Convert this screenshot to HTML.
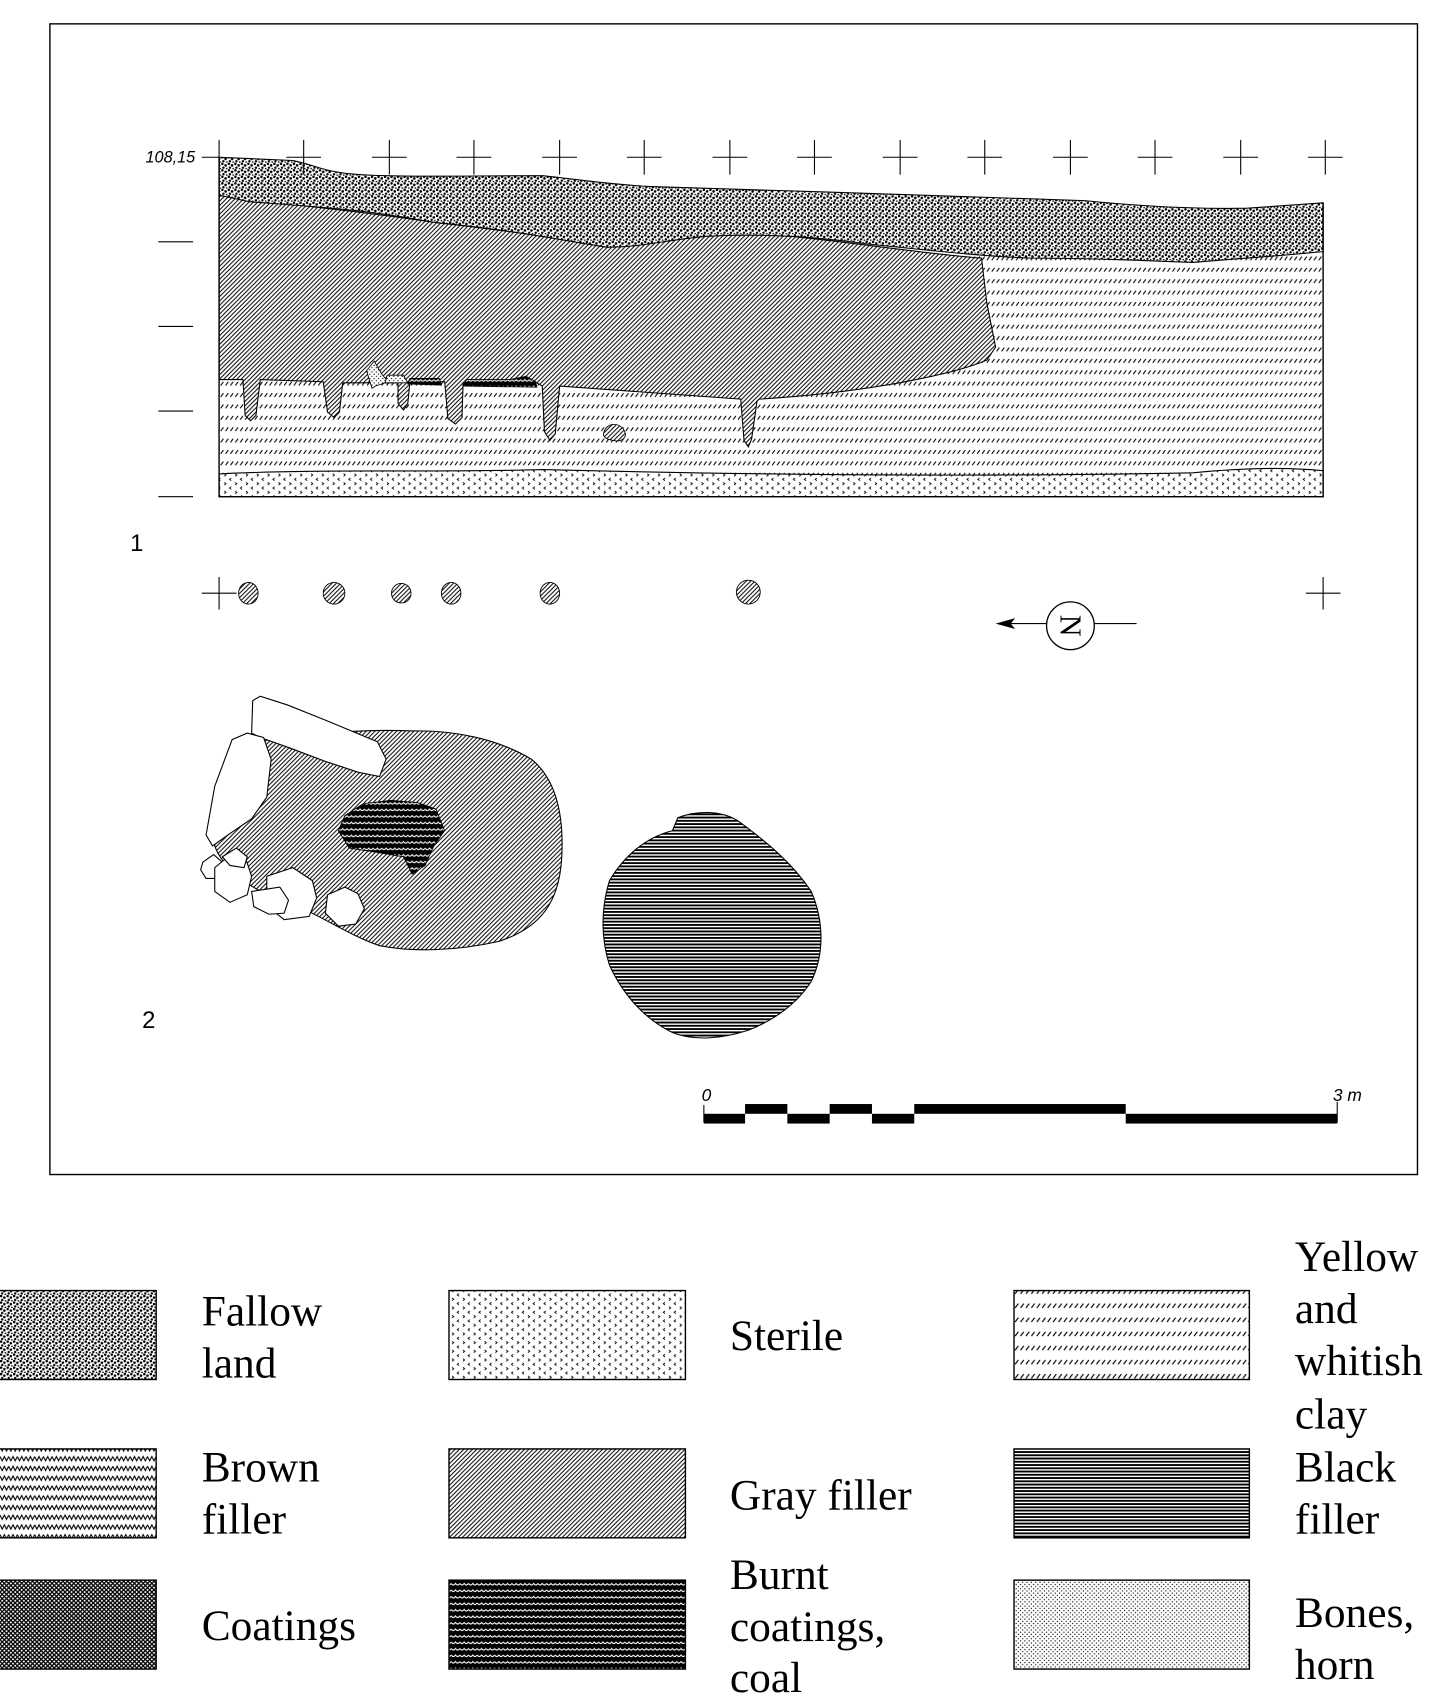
<!DOCTYPE html>
<html><head><meta charset="utf-8"><style>
html,body{margin:0;padding:0;background:#fff}
svg{display:block}
.lt{font-family:"Liberation Serif",serif;font-size:40px}
</style></head><body>
<svg width="1446" height="1699" viewBox="0 0 1333.3 1566.6" xmlns="http://www.w3.org/2000/svg">
<defs>
<pattern id="fal" width="6" height="6" patternUnits="userSpaceOnUse">
<rect width="6" height="6" fill="#fff"/>
<circle cx="1" cy="1" r="1.2" fill="#000"/><circle cx="4" cy="2.5" r="1.2" fill="#000"/><circle cx="2" cy="4.6" r="1.1" fill="#000"/><circle cx="5" cy="5.5" r="0.8" fill="#000"/>
</pattern>
<pattern id="gray" width="4" height="4" patternUnits="userSpaceOnUse">
<rect width="4" height="4" fill="#fff"/>
<path d="M-1,5 L5,-1 M-1,1 L1,-1 M3,5 L5,3" stroke="#000" stroke-width="0.9"/>
</pattern>
<pattern id="clay" width="4.5" height="10.5" patternUnits="userSpaceOnUse">
<rect width="4.5" height="10.5" fill="#fff"/>
<path d="M1,9 L3.5,5.5" stroke="#000" stroke-width="1"/>
</pattern>
<pattern id="clayL" width="5" height="13" patternUnits="userSpaceOnUse">
<rect width="5" height="13" fill="#fff"/>
<path d="M1,10 L4,6" stroke="#000" stroke-width="1.1"/>
</pattern>
<pattern id="ster" width="10" height="8" patternUnits="userSpaceOnUse">
<rect width="10" height="8" fill="#fff"/>
<path d="M3.2,0.8 L1.6,2 L3.2,3.2 M6.8,4.8 L8.4,6 L6.8,7.2" stroke="#000" stroke-width="0.8" fill="none"/>
</pattern>
<pattern id="blk" width="4" height="3" patternUnits="userSpaceOnUse">
<rect width="4" height="3" fill="#fff"/>
<rect y="0" width="4" height="1.7" fill="#000"/>
</pattern>
<pattern id="brown" width="8" height="9" patternUnits="userSpaceOnUse">
<rect width="8" height="9" fill="#fff"/>
<path d="M0,2 L2,6 L4,2 L6,6 L8,2" stroke="#000" stroke-width="1" fill="none"/>
</pattern>
<pattern id="coat" width="4" height="4" patternUnits="userSpaceOnUse">
<rect width="4" height="4" fill="#fff"/>
<path d="M0,0 L4,4 M4,0 L0,4" stroke="#000" stroke-width="1.2"/>
</pattern>
<pattern id="burnt" width="8" height="6" patternUnits="userSpaceOnUse">
<rect width="8" height="6" fill="#000"/>
<path d="M0,2 Q2,5 4,2 Q6,5 8,2" stroke="#fff" stroke-width="0.9" fill="none"/>
</pattern>
<pattern id="bone" width="4" height="4" patternUnits="userSpaceOnUse">
<rect width="4" height="4" fill="#fff"/>
<circle cx="1" cy="1" r="0.6" fill="#000"/><circle cx="3" cy="3" r="0.6" fill="#000"/>
</pattern>
</defs>

<rect x="46" y="22" width="1261" height="1061" fill="none" stroke="#000" stroke-width="1.3"/>

<!-- section -->
<rect x="202" y="230" width="1018" height="228" fill="url(#clay)"/>
<path d="M202,458 L202,437 C300,432 400,436 500,433 C700,438 900,440 1100,436 C1160,430 1200,432 1220,434 L1220,458 Z" fill="url(#ster)" stroke="#000" stroke-width="1"/>
<path d="M202,180 C230,186 300,190 400,205 C480,214 530,222 560,228 C600,224 650,215 700,215 C780,222 850,234 905,238 L910,280 L918,320 L910,332 C880,345 800,362 700,368 L698,370 L693,405 L690,412 L686,406 L683,368 L516,356 L512,400 L507,406 L502,398 L500,356 L495,353 L427,353 L426,385 L420,391 L413,386 L410,352 L378,352 L376,372 L372,378 L367,372 L367,353 L316,353 L313,380 L308,385 L302,380 L298,352 L240,350 L236,383 L231,388 L226,383 L224,350 L202,350 Z" fill="url(#gray)" stroke="#000" stroke-width="1"/>
<path d="M202,145 L270,148 C290,152 295,157 320,160 C360,164 420,162 500,162 C530,165 560,170 600,172 C650,174 700,175 760,177 C850,180 950,183 1000,185 C1050,190 1100,193 1150,192 L1220,187 L1220,232 C1180,236 1160,237 1100,242 C1050,240 1000,238 950,238 C900,236 850,230 800,225 C750,218 700,215 650,218 C610,222 590,228 560,228 C520,222 480,213 400,205 C330,192 280,190 230,186 L202,180 Z" fill="url(#fal)" stroke="#000" stroke-width="1"/>
<path d="M202,145 V458 H1220 V187" fill="none" stroke="#000" stroke-width="1.3"/>
<path d="M343,358 L338,342 L345,333 L352,345 L358,352 L346,356 Z" fill="url(#bone)" stroke="#000" stroke-width="0.8"/>
<path d="M355,353 L357,346 L372,346 L376,353 Z" fill="url(#bone)" stroke="#000" stroke-width="0.8"/>
<path d="M376,354 L378,349 L405,349 L407,355 Z" fill="url(#burnt)" stroke="#000" stroke-width="0.8"/>
<path d="M427,356 L430,350 L470,350 L485,347 L494,352 L495,357 Z" fill="url(#burnt)" stroke="#000" stroke-width="0.8"/>
<path d="M557,398 C560,390 570,389 575,396 C580,404 572,408 565,406 C558,405 555,402 557,398 Z" fill="url(#gray)" stroke="#000" stroke-width="0.8"/>

<!-- crosses -->
<g stroke="#000" stroke-width="1">
<path d="M186,145 H202 M202,129 V145 M264,145 H296 M280,129 V161 M343,145 H375 M359,129 V161 M421,145 H453 M437,129 V161 M500,145 H532 M516,129 V161 M578,145 H610 M594,129 V161 M657,145 H689 M673,129 V161 M735,145 H767 M751,129 V161 M814,145 H846 M830,129 V161 M892,145 H924 M908,129 V161 M971,145 H1003 M987,129 V161 M1049,145 H1081 M1065,129 V161 M1128,145 H1160 M1144,129 V161 M1206,145 H1238 M1222,129 V161"/>
<path d="M146,223 H178 M146,301 H178 M146,379 H178 M146,458 H178"/>
<path d="M186,547 H218 M202,532 V562 M1204,547 H1236 M1220,532 V562"/>
</g>
<text x="180" y="150" text-anchor="end" font-family="Liberation Sans,sans-serif" font-style="italic" font-size="15">108,15</text>
<text x="120" y="508" font-family="Liberation Sans,sans-serif" font-size="22">1</text>
<text x="131" y="948" font-family="Liberation Sans,sans-serif" font-size="22">2</text>

<!-- posts -->
<g fill="url(#gray)" stroke="#000" stroke-width="0.8">
<ellipse cx="229" cy="547" rx="9" ry="10"/><ellipse cx="308" cy="547" rx="10" ry="10"/>
<ellipse cx="370" cy="547" rx="9" ry="9"/><ellipse cx="416" cy="547" rx="9" ry="10"/>
<ellipse cx="507" cy="547" rx="9" ry="10"/><ellipse cx="690" cy="546" rx="11" ry="11"/>
</g>

<!-- north arrow -->
<path d="M930,575 H966 M1009,575 H1048" stroke="#000" stroke-width="1"/>
<path d="M918,575 L936,570 L932,575 L936,580 Z" fill="#000"/>
<circle cx="987" cy="577" r="22" fill="#fff" stroke="#000" stroke-width="1.2"/>
<text x="987" y="577" transform="rotate(90 987 577)" text-anchor="middle" dominant-baseline="central" font-family="Liberation Serif,serif" font-size="28">N</text>

<!-- pit 1 -->
<path d="M250,680 C300,676 340,672 380,674 C420,673 460,682 490,700 C512,718 520,750 518,790 C516,830 500,855 460,868 C420,877 380,878 350,872 C320,862 290,840 260,830 C230,820 205,800 198,780 C205,740 215,700 250,680 Z" fill="url(#gray)" stroke="#000" stroke-width="1"/>
<path d="M318,752 L335,741 L360,738 L385,740 L402,746 L410,766 L400,780 L392,798 L380,806 L372,790 L348,786 L322,782 L312,766 Z" fill="url(#burnt)" stroke="#000" stroke-width="0.8"/>
<g fill="#fff" stroke="#000" stroke-width="1">
<path d="M233,646 L240,642 L265,650 L300,664 L348,684 L356,700 L350,716 L330,712 L300,702 L268,690 L240,680 L232,676 Z"/>
<path d="M214,682 L228,676 L243,680 L250,700 L246,735 L232,755 L210,770 L196,780 L190,770 L198,725 Z"/>
<path d="M187,795 L197,788 L205,795 L202,810 L190,810 L185,802 Z"/>
<path d="M198,800 L215,786 L226,790 L232,808 L228,825 L212,832 L198,822 Z"/>
<path d="M205,790 L218,782 L228,790 L225,800 L212,798 Z"/>
<path d="M246,808 L270,800 L288,812 L292,828 L285,845 L262,848 L246,835 Z"/>
<path d="M232,822 L258,818 L266,830 L262,842 L248,843 L234,836 Z"/>
<path d="M302,825 L318,818 L330,824 L336,838 L328,852 L312,854 L300,842 Z"/>
</g>

<!-- pit 2 -->
<path d="M625,754 C640,748 665,746 682,758 C705,775 730,795 748,822 C760,850 760,880 748,905 C735,925 715,940 690,950 C665,958 640,960 620,952 C595,940 575,918 562,890 C554,865 554,838 562,812 C575,790 595,772 620,766 Z" fill="url(#blk)" stroke="#000" stroke-width="1"/>

<!-- scale bar -->
<text x="647" y="1015" font-family="Liberation Sans,sans-serif" font-style="italic" font-size="16">0</text>
<text x="1229" y="1015" font-family="Liberation Sans,sans-serif" font-style="italic" font-size="16">3 m</text>
<path d="M649,1019 V1035 M1233,1016 V1035" stroke="#000" stroke-width="1"/>
<g fill="#000">
<rect x="649" y="1027" width="38" height="9"/><rect x="687" y="1018" width="39" height="9"/>
<rect x="726" y="1027" width="39" height="9"/><rect x="765" y="1018" width="39" height="9"/>
<rect x="804" y="1027" width="39" height="9"/><rect x="843" y="1018" width="195" height="9"/>
<rect x="1038" y="1027" width="195" height="9"/>
</g>

<!-- legend -->
<g stroke="#000" stroke-width="1.3">
<rect x="-2" y="1190" width="146" height="82" fill="url(#fal)"/>
<rect x="-2" y="1336" width="146" height="82" fill="url(#brown)"/>
<rect x="-2" y="1457" width="146" height="82" fill="url(#coat)"/>
<rect x="414" y="1190" width="218" height="82" fill="url(#ster)"/>
<rect x="414" y="1336" width="218" height="82" fill="url(#gray)"/>
<rect x="414" y="1457" width="218" height="82" fill="url(#burnt)"/>
<rect x="935" y="1190" width="217" height="82" fill="url(#clayL)"/>
<rect x="935" y="1336" width="217" height="82" fill="url(#blk)"/>
<rect x="935" y="1457" width="217" height="82" fill="url(#bone)"/>
</g>
<g class="lt">
<text x="186" y="1222">Fallow</text><text x="186" y="1270">land</text>
<text x="186" y="1366">Brown</text><text x="186" y="1414">filler</text>
<text x="186" y="1512">Coatings</text>
<text x="673" y="1245">Sterile</text>
<text x="673" y="1392">Gray filler</text>
<text x="673" y="1465">Burnt</text><text x="673" y="1513">coatings,</text><text x="673" y="1560">coal</text>
<text x="1194" y="1172">Yellow</text><text x="1194" y="1220">and</text><text x="1194" y="1268">whitish</text><text x="1194" y="1317">clay</text>
<text x="1194" y="1366">Black</text><text x="1194" y="1414">filler</text>
<text x="1194" y="1500">Bones,</text><text x="1194" y="1548">horn</text>
</g>
</svg>
</body></html>
